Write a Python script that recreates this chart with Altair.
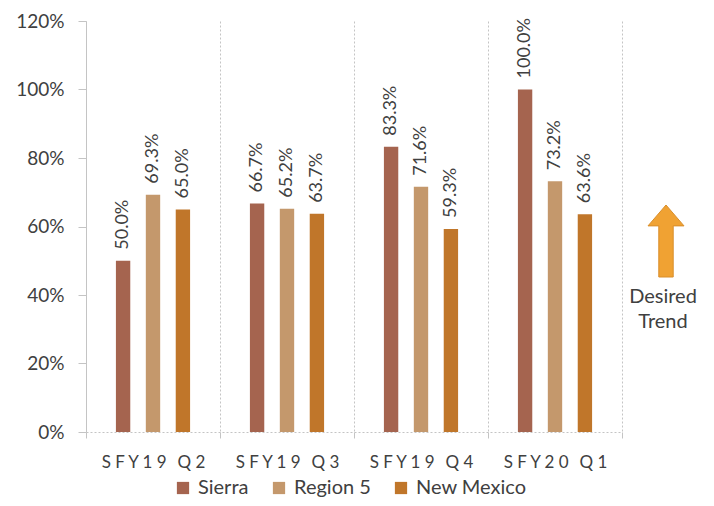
import altair as alt
import pandas as pd

quarters = ["SFY19 Q2", "SFY19 Q3", "SFY19 Q4", "SFY20 Q1"]
series = ["Sierra", "Region 5", "New Mexico"]
sierra = [0.500, 0.667, 0.833, 1.000]
region5 = [0.693, 0.652, 0.716, 0.732]
new_mexico = [0.650, 0.637, 0.593, 0.636]
colors = ["#A5644F", "#C4986C", "#C0762A"]
y_ticks = [0, 0.2, 0.4, 0.6, 0.8, 1.0, 1.2]
note_text = "Desired\nTrend"

rows = []
for q, a, b, c in zip(quarters, sierra, region5, new_mexico):
    for s, v in zip(series, (a, b, c)):
        rows.append({"quarter": q, "series": s, "value": v})
df = pd.DataFrame(rows)

FONT = "Lato"
TXT = "#404040"
GRID = "#C4C4C4"

base = alt.Chart(df).encode(
    x=alt.X(
        "quarter:N",
        sort=quarters,
        scale=alt.Scale(paddingInner=0, paddingOuter=0),
        axis=alt.Axis(
            title=None, labelAngle=0, tickBand="extent", grid=True,
            gridColor=GRID, gridDash=[2, 2], domainColor=GRID, domainDash=[2, 2],
            tickColor=GRID, tickSize=6, labelPadding=16, labelFont=FONT,
            labelFontSize=17, labelColor=TXT,
            labelExpr="join(split(replace(datum.label, ' ', '\u2009'), ''), ' ')",
        ),
    ),
    xOffset=alt.XOffset(
        "series:N", sort=series,
        scale=alt.Scale(paddingInner=0.52, paddingOuter=1),
    ),
    y=alt.Y(
        "value:Q",
        scale=alt.Scale(domain=[0, 1.2]),
        axis=alt.Axis(
            title=None, values=y_ticks, format=".0%", grid=False,
            domainColor=GRID, tickColor=GRID, tickSize=8, labelPadding=14,
            labelFont=FONT, labelFontSize=19, labelColor=TXT,
        ),
    ),
)

bars = base.mark_bar().encode(
    color=alt.Color(
        "series:N", sort=series,
        scale=alt.Scale(domain=series, range=colors),
        legend=alt.Legend(
            orient="none", legendX=87, legendY=457, direction="horizontal",
            title=None, symbolType="square", symbolSize=150, symbolStrokeWidth=0,
            labelFont=FONT, labelFontSize=20, labelColor=TXT,
            columnPadding=20, labelOffset=5,
        ),
    )
)

labels = base.mark_text(
    angle=270, align="left", baseline="middle", dx=11,
    font=FONT, fontSize=18, color=TXT,
).encode(text=alt.Text("value:Q", format=".1%"))

ARROW = "M0,-1 L0.5,-0.42 L0.2,-0.42 L0.2,1 L-0.2,1 L-0.2,-0.42 L-0.5,-0.42 Z"
note = pd.DataFrame({"label": [note_text]})

arrow = alt.Chart(note).mark_point(
    shape=ARROW, filled=True, size=5184, fill="#F0A233",
    stroke="#D98E2A", strokeWidth=1, opacity=1,
).encode(x=alt.value(580), y=alt.value(220))

trend = alt.Chart(note).mark_text(
    lineBreak="\n", lineHeight=25, align="center", baseline="top",
    font=FONT, fontSize=20, color=TXT,
).encode(x=alt.value(577), y=alt.value(266), text="label:N")

chart = alt.layer(bars, labels, arrow, trend).properties(
    width=536, height=411,
    autosize=alt.AutoSizeParams(type="none"),
    padding={"left": 78, "top": 13, "right": 84, "bottom": 66},
).configure_view(stroke=None)

chart.save("out.html", embed_options={"renderer": "svg", "actions": False})
